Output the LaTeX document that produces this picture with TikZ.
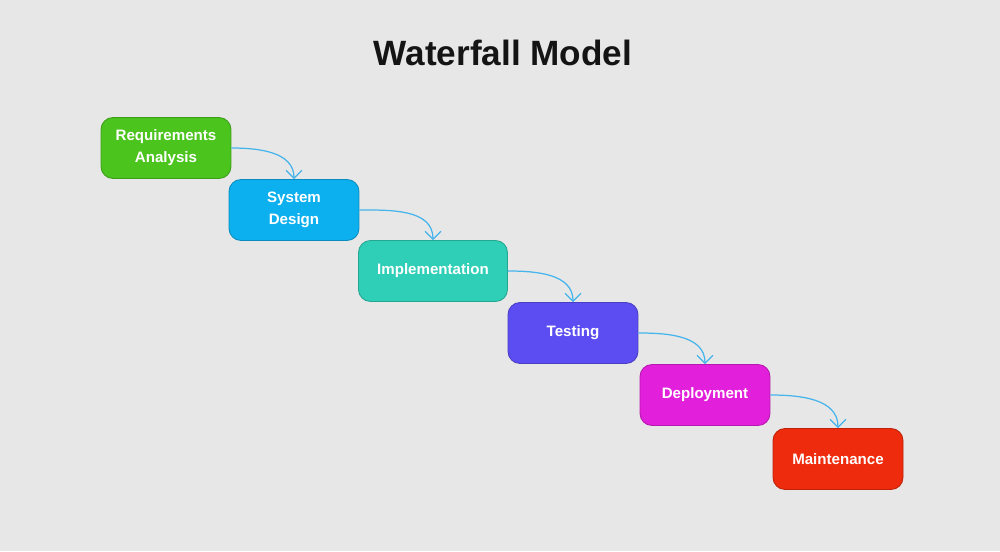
\documentclass[tikz,border=0pt]{standalone}
\usepackage{fontspec}
\setmainfont{Liberation Sans}
\usetikzlibrary{arrows.meta}
\definecolor{bgcol}{HTML}{E7E7E7}
\definecolor{reqcol}{HTML}{4CC41E}
\definecolor{descol}{HTML}{0DB0EE}
\definecolor{impcol}{HTML}{2ECFB6}
\definecolor{tstcol}{HTML}{5C4DF2}
\definecolor{depcol}{HTML}{E21FDA}
\definecolor{maicol}{HTML}{EE2B0C}
\definecolor{flowcol}{HTML}{45B4EC}
\begin{document}
\begin{tikzpicture}[x=0.02cm,y=-0.02cm]
\fill[bgcol] (0,0) rectangle (1000,551);
\useasboundingbox (0,0) rectangle (1000,551);

\tikzset{phase/.style={rounded corners=0.24cm, minimum width=2.6cm, minimum height=1.22cm, align=center, text=white, font=\fontsize{8.6}{12.5}\selectfont\bfseries, line width=0.5pt}};
\tikzset{flow/.style={-{Straight Barb[length=4.5pt,width=9pt]}, flowcol, line width=0.7pt, out=0, in=90}};

\node[font=\fontsize{20}{24}\selectfont\bfseries, text=black!92] (title) at (503,53) {Waterfall Model};

\node[phase, fill=reqcol, draw=reqcol!80!black] (req) at (166,148) {Requirements\\Analysis};
\node[phase, fill=descol, draw=descol!80!black] (des) at (294,210) {System\\Design};
\node[phase, fill=impcol, draw=impcol!80!black, minimum width=2.98cm] (imp) at (433,271) {Implementation};
\node[phase, fill=tstcol, draw=tstcol!80!black] (tst) at (573,333) {Testing};
\node[phase, fill=depcol, draw=depcol!80!black] (dep) at (705,395) {Deployment};
\node[phase, fill=maicol, draw=maicol!80!black] (mai) at (838,459) {Maintenance};

\path (req) edge [flow] (des.north);
\path (des) edge [flow] (imp.north);
\path (imp) edge [flow] (tst.north);
\path (tst) edge [flow] (dep.north);
\path (dep) edge [flow] (mai.north);
\end{tikzpicture}
\end{document}
